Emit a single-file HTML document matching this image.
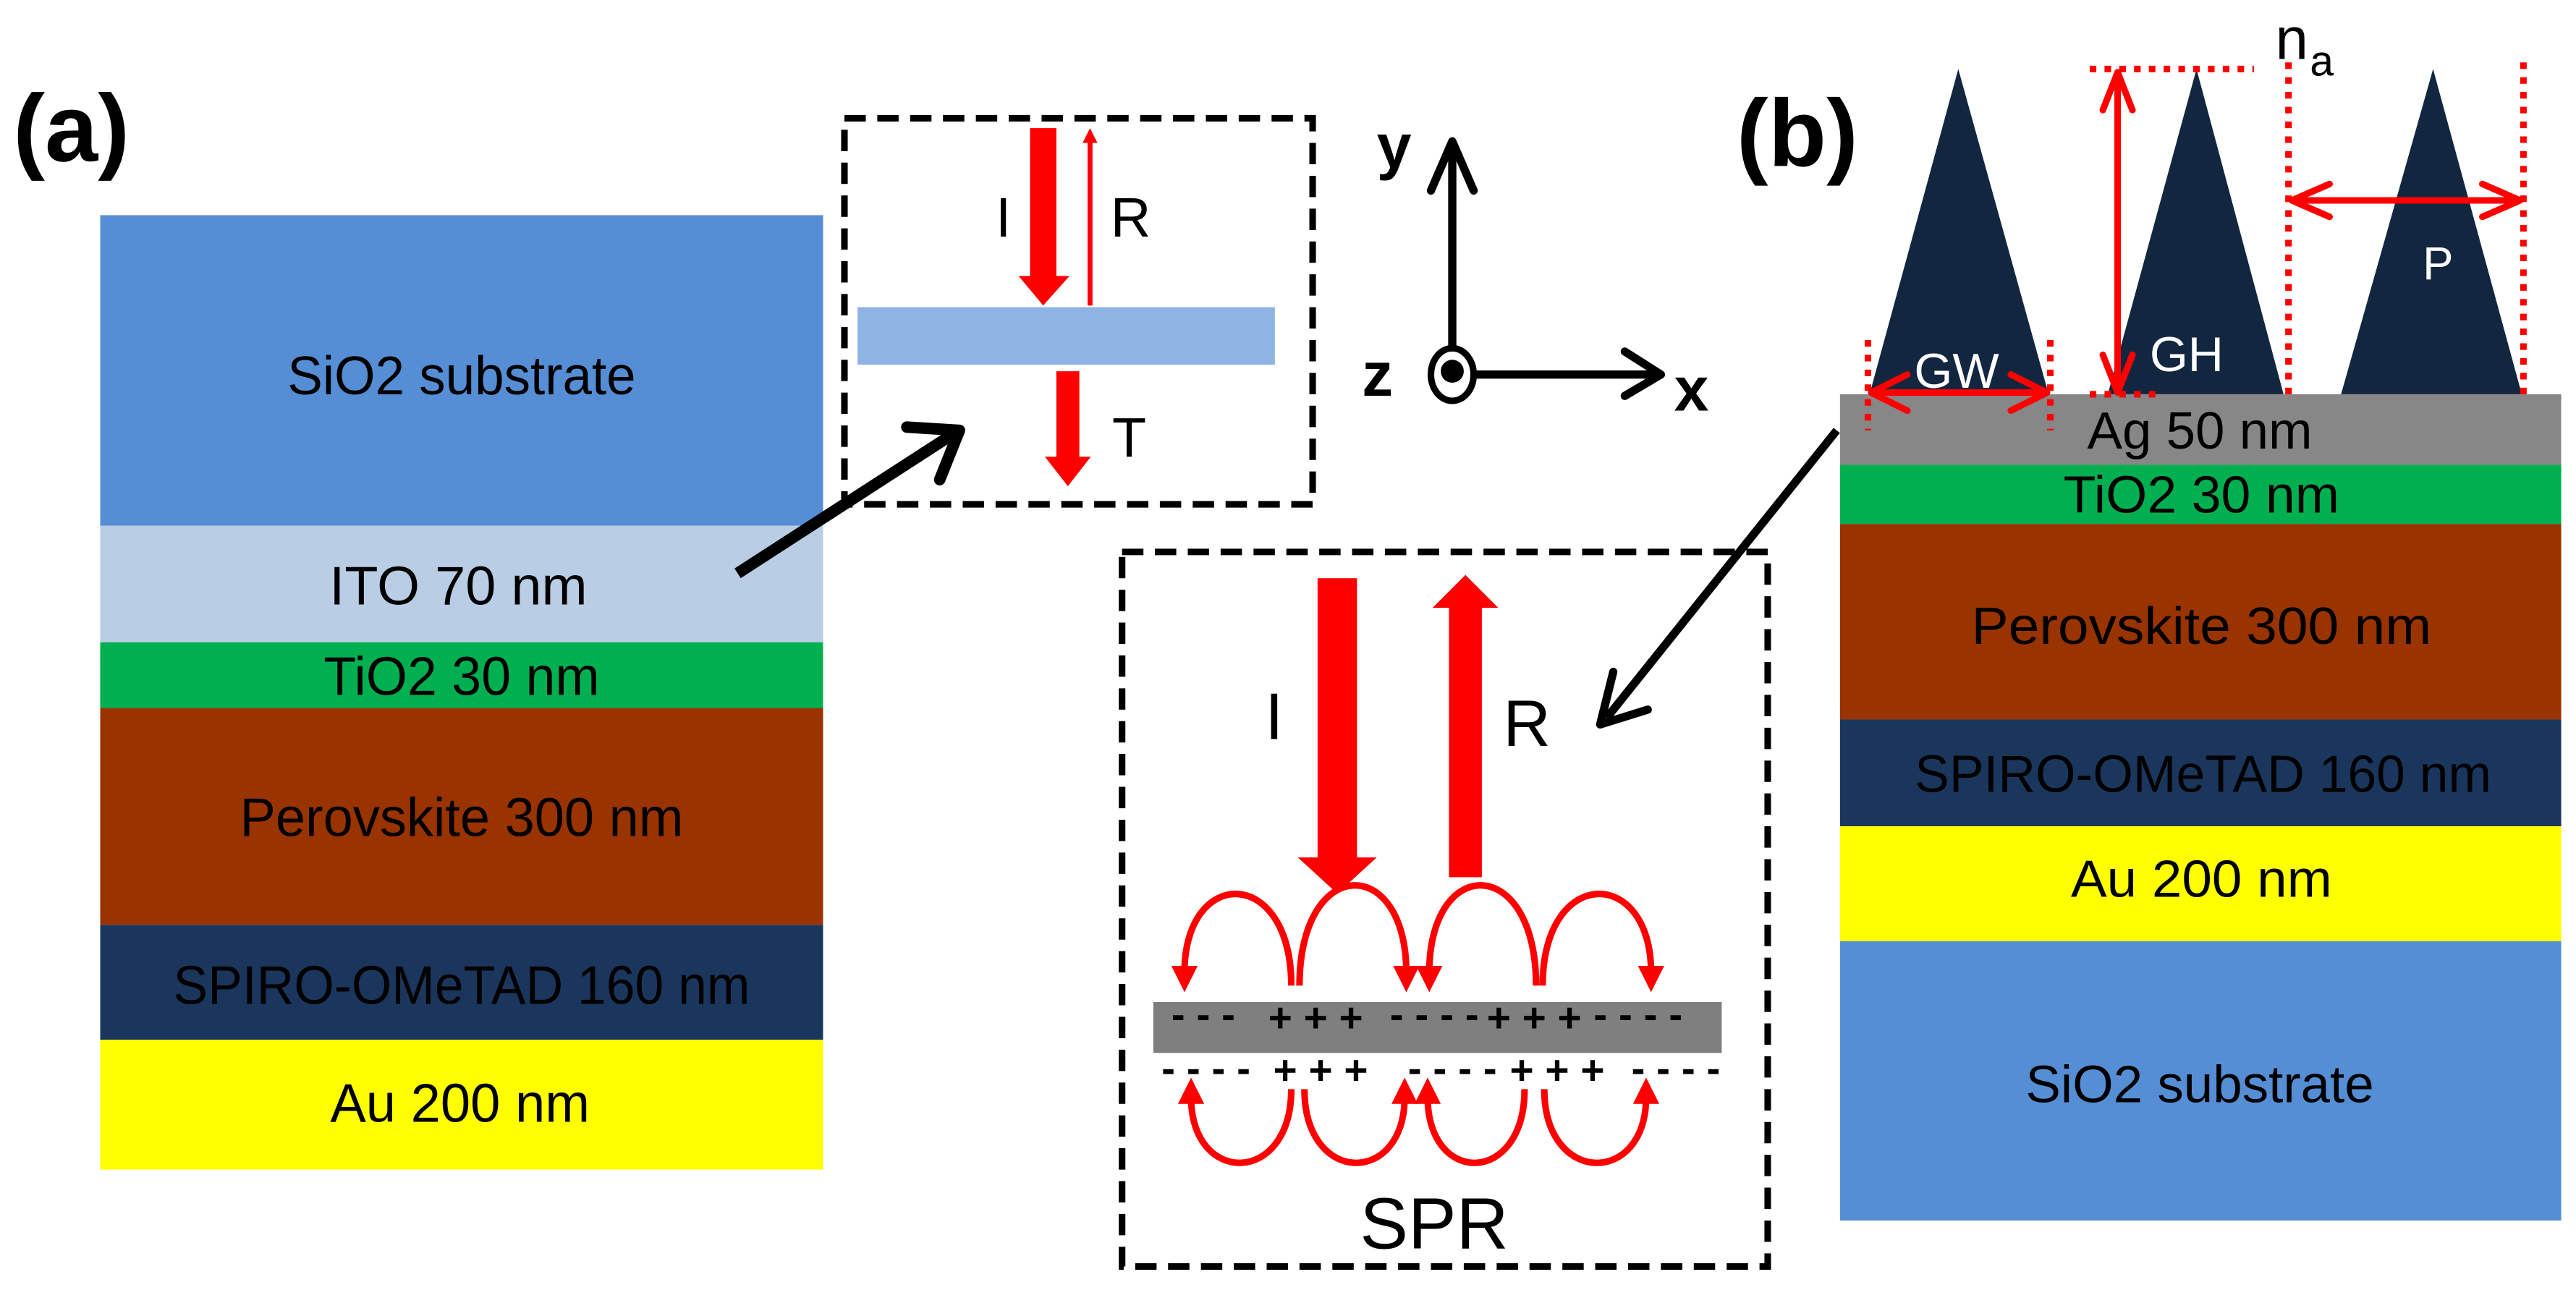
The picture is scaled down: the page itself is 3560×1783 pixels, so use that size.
<!DOCTYPE html>
<html><head><meta charset="utf-8"><style>html,body{margin:0;padding:0;background:#fff;}svg{display:block}</style></head>
<body>
<svg width="3560" height="1783" viewBox="0 0 1568 785.3" preserveAspectRatio="none" xmlns="http://www.w3.org/2000/svg" font-family="Liberation Sans, sans-serif">
<rect width="1568" height="785.3" fill="#fff"/>
<!-- (a) -->
<text x="8" y="98" font-size="58" font-weight="bold">(a)</text>
<!-- left stack -->
<rect x="61" y="131" width="440" height="189" fill="#558ED5"/>
<rect x="61" y="320" width="440" height="71" fill="#B9CDE5"/>
<rect x="61" y="391" width="440" height="40" fill="#00B050"/>
<rect x="61" y="431" width="440" height="132" fill="#993300"/>
<rect x="61" y="563" width="440" height="70" fill="#1A365C"/>
<rect x="61" y="633" width="440" height="79" fill="#FFFF00"/>
<g font-size="33" fill="#000" text-anchor="middle">
<text x="281" y="240" textLength="212" lengthAdjust="spacingAndGlyphs">SiO2 substrate</text>
<text x="279" y="368" textLength="157" lengthAdjust="spacingAndGlyphs">ITO  70 nm</text>
<text x="281" y="423" textLength="168" lengthAdjust="spacingAndGlyphs">TiO2 30 nm</text>
<text x="281" y="509" textLength="270" lengthAdjust="spacingAndGlyphs">Perovskite 300 nm</text>
<text x="281" y="611" textLength="351" lengthAdjust="spacingAndGlyphs">SPIRO-OMeTAD 160 nm</text>
<text x="280" y="683" textLength="158" lengthAdjust="spacingAndGlyphs">Au 200 nm</text>
</g>
<!-- top inset box -->
<rect x="514" y="72" width="285" height="235" fill="none" stroke="#000" stroke-width="4" stroke-dasharray="13,7"/>
<rect x="522" y="187" width="254" height="35" fill="#8EB4E3"/>
<rect x="627" y="78" width="16" height="92" fill="#f00"/>
<polygon points="620,168 651,168 635,186" fill="#f00"/>
<rect x="662" y="85" width="3" height="101" fill="#f00"/>
<polygon points="659,87 668,87 663.5,78" fill="#f00"/>
<rect x="643" y="226" width="14" height="60" fill="#f00"/>
<polygon points="636,278 664,278 650,296" fill="#f00"/>
<g font-size="34" fill="#000">
<text x="606" y="144">I</text>
<text x="676" y="144">R</text>
<text x="677" y="278">T</text>
</g>
<!-- black arrow a -->
<line x1="449" y1="349" x2="582" y2="263" stroke="#000" stroke-width="7"/>
<polyline points="552,260 584,262 572,292" fill="none" stroke="#000" stroke-width="7" stroke-linecap="round" stroke-linejoin="round"/>
<!-- axes -->
<line x1="884" y1="212" x2="884" y2="92" stroke="#000" stroke-width="5"/>
<polyline points="871,116 884,86 897,116" fill="none" stroke="#000" stroke-width="5" stroke-linecap="round" stroke-linejoin="round"/>
<ellipse cx="884" cy="228" rx="13" ry="16" fill="#fff" stroke="#000" stroke-width="4"/>
<circle cx="884" cy="226" r="7" fill="#000"/>
<line x1="898" y1="228" x2="1008" y2="228" stroke="#000" stroke-width="5"/>
<polyline points="989,214 1011,228 989,241" fill="none" stroke="#000" stroke-width="5" stroke-linecap="round" stroke-linejoin="round"/>
<g font-size="38" font-weight="bold" fill="#000">
<text x="838" y="102">y</text>
<text x="829" y="241">z</text>
<text x="1019" y="250">x</text>
</g>
<!-- SPR box -->
<rect x="683" y="336" width="393" height="435" fill="none" stroke="#000" stroke-width="4" stroke-dasharray="13,7"/>
<rect x="702" y="610" width="346" height="31" fill="#7F7F7F"/>
<rect x="802" y="352" width="24" height="172" fill="#f00"/>
<polygon points="790,522 838,522 814,544" fill="#f00"/>
<rect x="882" y="368" width="20" height="166" fill="#f00"/>
<polygon points="872,370 912,370 892,350" fill="#f00"/>
<text x="770" y="450" font-size="40" fill="#000">I</text>
<text x="915" y="454" font-size="40" fill="#000">R</text>
<text x="873" y="760" font-size="44" fill="#000" text-anchor="middle">SPR</text>
<g fill="none" stroke="#f00" stroke-width="4">
<path d="M786,600 C786,527 721,527 721,592"/>
<path d="M791,600 C791,520 856,520 856,592"/>
<path d="M935,600 C935,520 870,520 870,592"/>
<path d="M939,600 C939,527 1005,527 1005,592"/>
<path d="M786,663 C786,722 725,722 725,668"/>
<path d="M794,663 C794,722 855,722 855,668"/>
<path d="M928,663 C928,722 869,722 869,668"/>
<path d="M940,663 C940,722 1002,722 1002,668"/>
</g>
<g fill="#f00">
<polygon points="713,588 729,588 721,604"/>
<polygon points="848,588 864,588 856,604"/>
<polygon points="862,588 878,588 870,604"/>
<polygon points="997,588 1013,588 1005,604"/>
<polygon points="717,672 733,672 725,656"/>
<polygon points="847,672 863,672 855,656"/>
<polygon points="861,672 877,672 869,656"/>
<polygon points="994,672 1010,672 1002,656"/>
</g>
<g font-size="25" font-weight="bold" fill="#000">
<text x="713" y="626">- - -</text>
<text x="772" y="628">+ + +</text>
<text x="846" y="626">- - - -</text>
<text x="905" y="628">+ + +</text>
<text x="970" y="626">- - - -</text>
<text x="707" y="659">- - - -</text>
<text x="775" y="660">+ + +</text>
<text x="857" y="659">- - - -</text>
<text x="919" y="660">+ + +</text>
<text x="993" y="659">- - - -</text>
</g>
<!-- black arrow b -->
<line x1="1118" y1="262" x2="978" y2="437" stroke="#000" stroke-width="5"/>
<polyline points="982,409 974,441 1003,432" fill="none" stroke="#000" stroke-width="5" stroke-linecap="round" stroke-linejoin="round"/>
<!-- (b) -->
<text x="1057" y="101" font-size="58" font-weight="bold">(b)</text>
<!-- right stack -->
<rect x="1120" y="240" width="439" height="43" fill="#878787"/>
<rect x="1120" y="283" width="439" height="36" fill="#00B050"/>
<rect x="1120" y="319" width="439" height="119" fill="#993300"/>
<rect x="1120" y="438" width="439" height="65" fill="#1A365C"/>
<rect x="1120" y="503" width="439" height="70" fill="#FFFF00"/>
<rect x="1120" y="573" width="439" height="170" fill="#558ED5"/>
<g font-size="32" fill="#000" text-anchor="middle">
<text x="1339" y="273" textLength="137" lengthAdjust="spacingAndGlyphs">Ag 50 nm</text>
<text x="1340" y="312" textLength="168" lengthAdjust="spacingAndGlyphs">TiO2 30 nm</text>
<text x="1340" y="392" textLength="280" lengthAdjust="spacingAndGlyphs">Perovskite  300 nm</text>
<text x="1341" y="482" textLength="351" lengthAdjust="spacingAndGlyphs">SPIRO-OMeTAD 160 nm</text>
<text x="1340" y="546" textLength="159" lengthAdjust="spacingAndGlyphs">Au 200 nm</text>
<text x="1339" y="671" textLength="212" lengthAdjust="spacingAndGlyphs">SiO2 substrate</text>
</g>
<!-- cones -->
<g fill="#12263F">
<polygon points="1192,42 1138,240 1247,240"/>
<polygon points="1337,42 1283,240 1390,240"/>
<polygon points="1481,42 1425,240 1535,240"/>
</g>
<g font-size="30" fill="#fff" text-anchor="middle">
<text x="1191" y="236">GW</text>
<text x="1331" y="226">GH</text>
<text x="1484" y="170" font-size="28">P</text>
</g>
<text x="1385" y="36" font-size="36" fill="#000">n</text>
<text x="1406" y="46" font-size="26" fill="#000">a</text>
<!-- dimension lines -->
<g stroke="#f00" stroke-width="4" fill="none">
<line x1="1272" y1="42" x2="1372" y2="42" stroke-dasharray="4,5"/>
<line x1="1272" y1="240" x2="1312" y2="240" stroke-dasharray="4,5"/>
<line x1="1393" y1="38" x2="1393" y2="240" stroke-dasharray="4,5"/>
<line x1="1536" y1="38" x2="1536" y2="240" stroke-dasharray="4,5"/>
<line x1="1137" y1="207" x2="1137" y2="262" stroke-dasharray="4,5"/>
<line x1="1248" y1="207" x2="1248" y2="262" stroke-dasharray="4,5"/>
<line x1="1289" y1="45" x2="1289" y2="238"/>
<polyline points="1280,67 1289,44 1298,67" stroke-linecap="round" stroke-linejoin="round"/>
<polyline points="1280,216 1289,239 1298,216" stroke-linecap="round" stroke-linejoin="round"/>
<line x1="1395" y1="122" x2="1534" y2="122"/>
<polyline points="1418,112 1395,122 1418,132" stroke-linecap="round" stroke-linejoin="round"/>
<polyline points="1511,112 1534,122 1511,132" stroke-linecap="round" stroke-linejoin="round"/>
<line x1="1139" y1="239" x2="1246" y2="239"/>
<polyline points="1161,228 1139,239 1161,250" stroke-linecap="round" stroke-linejoin="round"/>
<polyline points="1224,228 1246,239 1224,250" stroke-linecap="round" stroke-linejoin="round"/>
</g>
</svg>
</body></html>
